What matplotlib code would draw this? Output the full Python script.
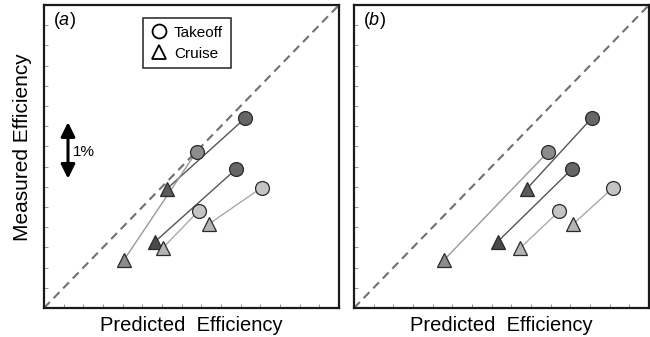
import matplotlib
matplotlib.use("Agg")
import matplotlib.pyplot as plt
from matplotlib.lines import Line2D

plt.rcParams["font.family"] = ["Liberation Sans", "DejaVu Sans"]
plt.rcParams["mathtext.fontset"] = "custom"
plt.rcParams["mathtext.it"] = "Liberation Sans:italic"
plt.rcParams["mathtext.rm"] = "Liberation Sans"

# Measured efficiency (same for both panels), arbitrary units
measured_takeoff = [9.39, 7.74, 6.87, 5.96, 4.80]
measured_cruise = [5.89, 2.38, 3.28, 4.16, 2.96]

# Predicted efficiency, panel (a) and panel (b)
pred_takeoff_a = [10.22, 7.76, 9.76, 11.07, 7.86]
pred_cruise_a = [6.24, 4.07, 5.64, 8.39, 6.03]
pred_takeoff_b = [12.08, 9.88, 11.07, 13.18, 10.44]
pred_cruise_b = [8.78, 4.58, 7.30, 11.15, 8.44]

circle_colors = ["#666666", "#8c8c8c", "#666666", "#c4c4c4", "#c4c4c4"]
triangle_colors = ["#5a5a5a", "#8c8c8c", "#4a4a4a", "#b4b4b4", "#b4b4b4"]
line_colors = ["#555555", "#999999", "#555555", "#aaaaaa", "#aaaaaa"]

panel_labels = ["a", "b"]
lim = 15

fig = plt.figure(figsize=(6.5, 3.37), dpi=100)
W, H = 650, 337
ax_a = fig.add_axes([44 / W, 29 / H, 295 / W, 303 / H])
ax_b = fig.add_axes([354 / W, 29 / H, 295 / W, 303 / H])

panels = [(ax_a, pred_takeoff_a, pred_cruise_a), (ax_b, pred_takeoff_b, pred_cruise_b)]

for (ax, pt, pc), lab in zip(panels, panel_labels):
    ax.set_xlim(0, lim)
    ax.set_ylim(0, lim)
    ax.plot([0, lim], [0, lim], ls=(0, (4, 2.6)), color="#707070", lw=1.5, zorder=1)
    for i in range(len(pt)):
        ax.plot([pc[i], pt[i]], [measured_cruise[i], measured_takeoff[i]],
                color=line_colors[i], lw=1.0, zorder=2)
    for i in range(len(pt)):
        ax.plot(pt[i], measured_takeoff[i], "o", ms=10, mfc=circle_colors[i],
                mec="#2a2a2a", mew=0.9, zorder=3)
    for i in range(len(pt)):
        ax.plot(pc[i], measured_cruise[i], "^", ms=10.5, mfc=triangle_colors[i],
                mec="#2a2a2a", mew=0.9, zorder=4)
    ax.set_xticks(range(1, lim))
    ax.set_yticks(range(1, lim))
    ax.tick_params(direction="in", length=3, width=0.6, color="#888888",
                   labelbottom=False, labelleft=False)
    for s in ax.spines.values():
        s.set_linewidth(1.6)
        s.set_color("#1a1a1a")
    ax.set_xlabel("Predicted  Efficiency", fontsize=14.5, labelpad=6)
    ax.text(0.03, 0.985, rf"($\it{{{lab}}}$)", transform=ax.transAxes,
            fontsize=13, va="top", ha="left")

ax_a.set_ylabel("Measured Efficiency", fontsize=15)
ax_a.yaxis.set_label_coords(-0.04, 0.53)

# 1% scale arrow
ax_a.annotate("", xy=(1.22, 9.2), xytext=(1.22, 6.4),
              arrowprops=dict(arrowstyle="<|-|>,head_length=0.85,head_width=0.42",
                              color="black", lw=2.2, shrinkA=0, shrinkB=0))
ax_a.text(1.45, 7.72, "1%", fontsize=11, va="center", ha="left")

handles = [
    Line2D([], [], marker="o", ls="none", ms=10, mfc="white", mec="black", mew=1.3),
    Line2D([], [], marker="^", ls="none", ms=10.5, mfc="white", mec="black", mew=1.3),
]
leg = ax_a.legend(handles, ["Takeoff", "Cruise"], loc="upper left",
                  bbox_to_anchor=(0.337, 0.957), frameon=True, fancybox=False,
                  edgecolor="black", fontsize=11, handletextpad=0.5,
                  handlelength=1.0, borderpad=0.5, labelspacing=0.45,
                  borderaxespad=0)
leg.get_frame().set_linewidth(1.2)

fig.savefig("out.png", dpi=100)
